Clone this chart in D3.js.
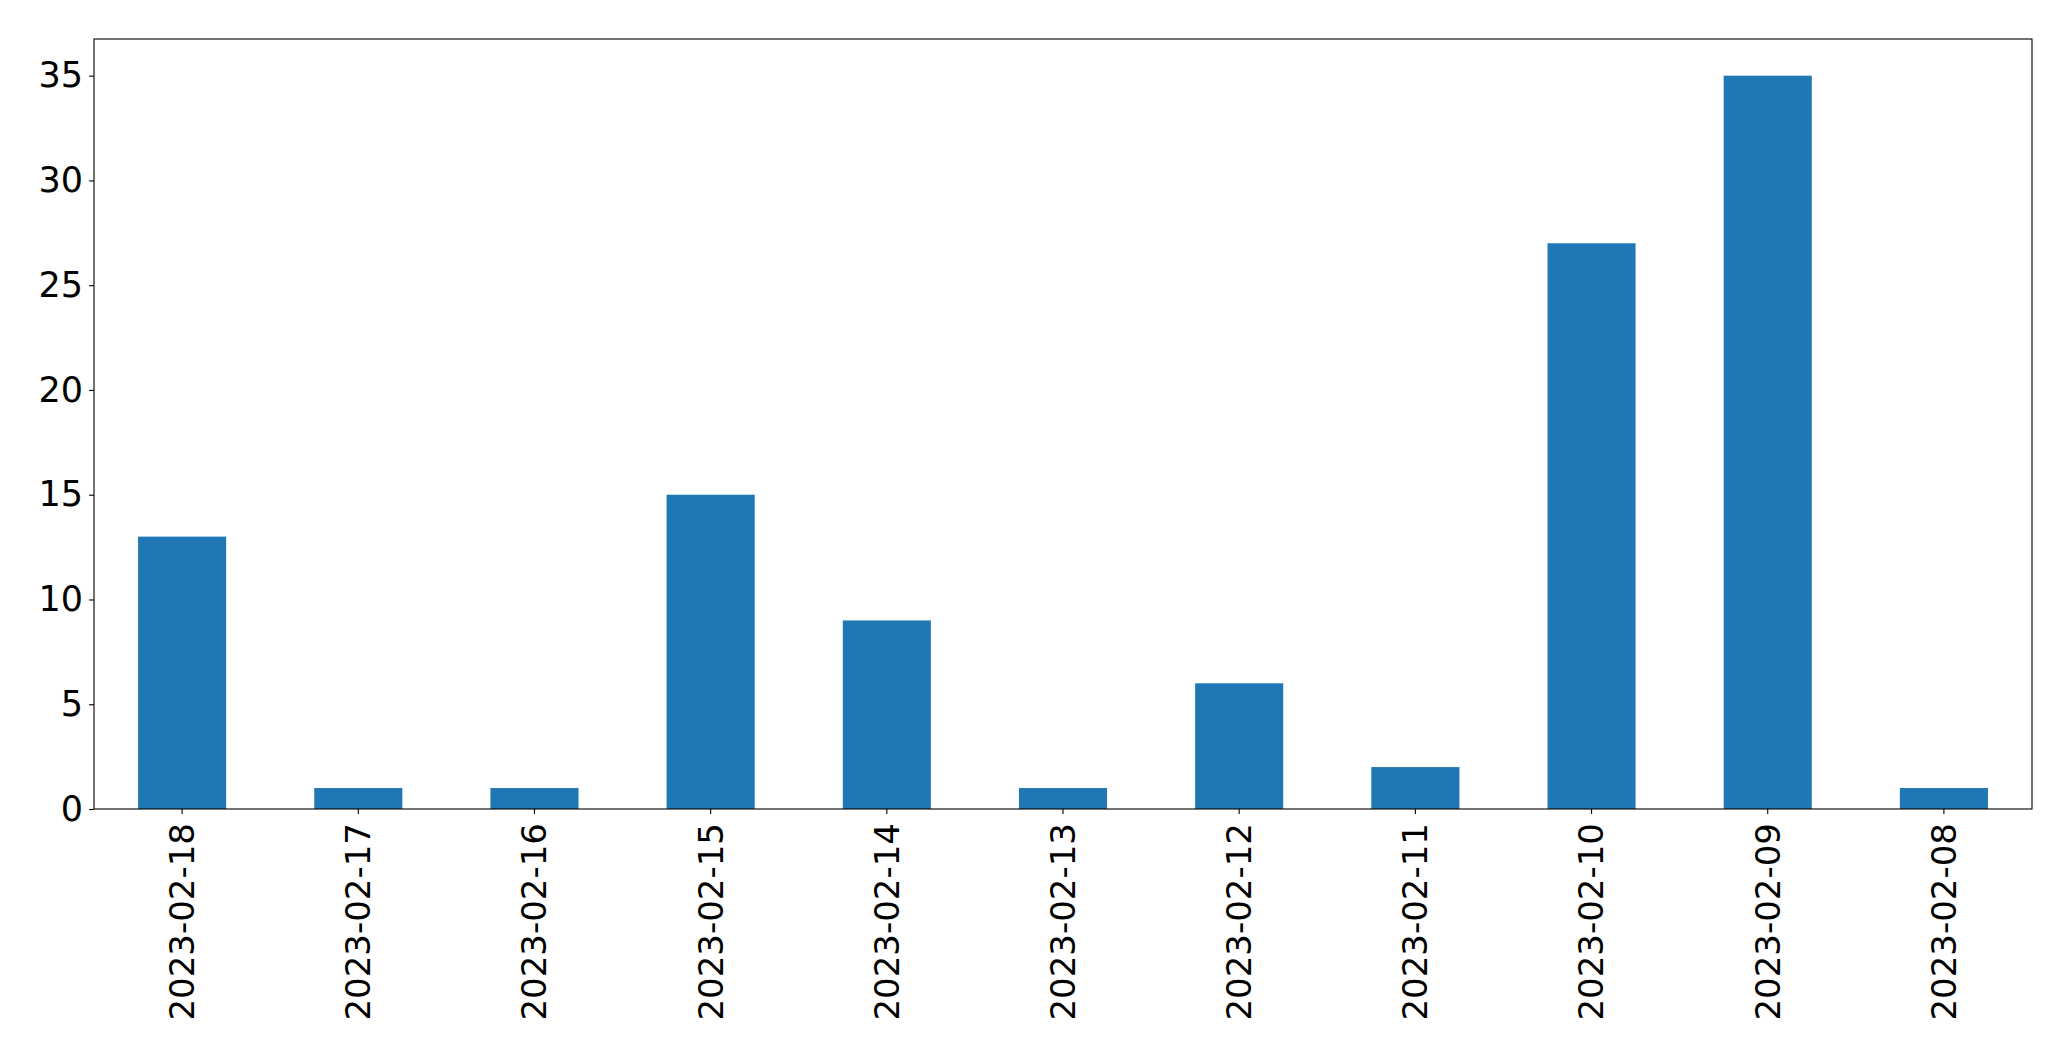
<!DOCTYPE html>
<html>
<head>
<meta charset="utf-8">
<script src="https://cdn.jsdelivr.net/npm/d3@7"></script>
<style>
html,body{margin:0;padding:0;background:#fff;}
svg text{font-family:"DejaVu Sans",sans-serif;}
</style>
</head>
<body>
<svg id="chart" width="2071" height="1061"></svg>
<script>
const categories = ["2023-02-18","2023-02-17","2023-02-16","2023-02-15","2023-02-14","2023-02-13","2023-02-12","2023-02-11","2023-02-10","2023-02-09","2023-02-08"];
const values = [13,1,1,15,9,1,6,2,27,35,1];
const yTicks = [0,5,10,15,20,25,30,35];

const W = 2071, H = 1061;
const m = {left:94, right:2032, top:39, bottom:809};
const svg = d3.select("#chart");

const x = d3.scaleBand().domain(categories).range([m.left, m.right]).paddingInner(0.5).paddingOuter(0.25);
const y = d3.scaleLinear().domain([0, 36.75]).range([m.bottom, m.top]);

svg.append("g").selectAll("rect").data(values).join("rect")
  .attr("x", (d,i)=>x(categories[i]))
  .attr("width", x.bandwidth())
  .attr("y", d=>y(d))
  .attr("height", d=>y(0)-y(d))
  .attr("fill", "#1f77b4");

const yAxis = svg.append("g").attr("transform", `translate(${m.left},0)`)
  .call(d3.axisLeft(y).tickValues(yTicks).tickSize(4.9).tickPadding(6));
yAxis.select(".domain").remove();
yAxis.selectAll("text").attr("font-size", 35).attr("fill","#000").attr("font-family","DejaVu Sans");
yAxis.selectAll("line").attr("stroke","#000").attr("stroke-width",1.1);

const xAxis = svg.append("g").attr("transform", `translate(0,${m.bottom})`)
  .call(d3.axisBottom(x).tickSize(4.9).tickPadding(5));
xAxis.select(".domain").remove();
xAxis.selectAll("line").attr("stroke","#000").attr("stroke-width",1.1);
xAxis.selectAll("text")
  .attr("font-size", 34).attr("fill","#000").attr("font-family","DejaVu Sans")
  .attr("transform", "rotate(-90)")
  .attr("text-anchor", "end")
  .attr("x", -14)
  .attr("y", 0)
  .attr("dy", "0.35em");

svg.append("rect")
  .attr("x", m.left).attr("y", m.top)
  .attr("width", m.right - m.left).attr("height", m.bottom - m.top)
  .attr("fill", "none").attr("stroke", "#000").attr("stroke-width", 1.1);
</script>
</body>
</html>
